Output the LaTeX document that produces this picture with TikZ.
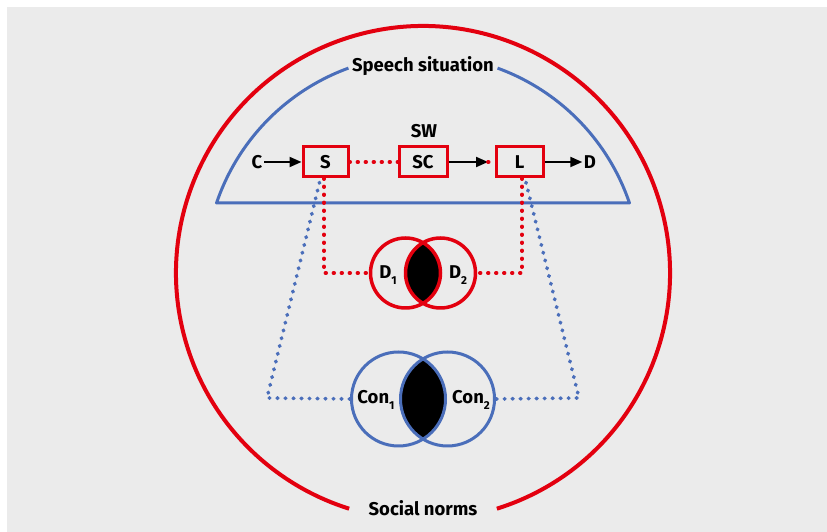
\documentclass[tikz,border=0pt]{standalone}
\usepackage{fontspec}
\setmainfont{Fira Sans}
\usetikzlibrary{arrows.meta,calc}
\definecolor{normred}{HTML}{E3000F}
\definecolor{sitblue}{HTML}{4A6EBA}
\definecolor{panel}{HTML}{EBEBEB}
\tikzset{
  lbl/.style={font=\bfseries\fontsize{18.5}{20}\selectfont, inner sep=1.5pt, text=black},
  stepbox/.style={lbl, draw=normred, line width=3pt, minimum width=45pt, minimum height=30pt},
  arr/.style={line width=2pt, -{Triangle[length=12pt,width=10pt]}},
  reddots/.style={normred, line width=3.8pt, line cap=round, dash pattern=on 0.6pt off 7.4pt},
  bluedots/.style={sitblue, line width=3.8pt, line cap=round, dash pattern=on 0.6pt off 7.4pt},
  ring/.style={circle, draw, inner sep=0pt},
}
\newcommand{\subidx}[1]{\raisebox{-0.6ex}{\fontsize{11.5}{12}\selectfont #1}}
\begin{document}
\begin{tikzpicture}[x=1pt,y=1pt]
  \useasboundingbox (0,0) rectangle (827,532);
  \fill[panel] (7,0) rectangle (827,525);

  \coordinate (ctr) at (423,259);

  % outer ring: social norms
  \draw[normred, line width=4pt] ([shift={(ctr)}]287.4:247) arc[start angle=287.4, end angle=612.6, radius=247];
  \node[lbl] (norms) at (423,24) {Social norms};

  % speech situation segment
  \draw[sitblue, line width=3pt, line join=round]
    ([shift={(ctr)}]70:218) arc[start angle=70, end angle=18.73, radius=218]
    -- ([shift={(ctr)}]161.27:218) arc[start angle=161.27, end angle=110, radius=218];
  \node[lbl] (sit) at (423,466) {Speech situation};

  % speech chain
  \node[lbl] (sw) at (424,401) {SW};
  \node[stepbox] (S) at (325.5,370) {S};
  \node[stepbox, minimum width=48pt] (SC) at (423,370) {SC};
  \node[stepbox, minimum width=47pt] (L) at (519.5,370) {L};
  \node[lbl] (C) at (257,370) {C};
  \node[lbl] (D) at (590,370) {D};
  \coordinate (sctip) at (488,370);

  \draw[arr] (C) -- (S);
  \draw[reddots] (S.east) -- (SC.west);
  \draw[arr] (SC.east) -- (sctip);
  \draw[reddots] (sctip) -- (L.west);
  \draw[arr] (L.east) -- (D);

  % D circles
  \node[ring, minimum size=70pt] (d1) at (405.5,259) {};
  \node[ring, minimum size=70pt] (d2) at (440.5,259) {};
  \begin{scope}
    \clip (405.5,259) circle (35);
    \fill[black] (440.5,259) circle (35);
  \end{scope}
  \draw[normred, line width=3.5pt] (d1.center) circle (35) (d2.center) circle (35);
  \node[lbl] (d1l) at (388,257) {D\subidx{1}};
  \node[lbl] (d2l) at (458,257) {D\subidx{2}};

  % Con circles
  \node[ring, minimum size=94pt] (c1) at (398.5,133) {};
  \node[ring, minimum size=94pt] (c2) at (447.5,133) {};
  \begin{scope}
    \clip (398.5,133) circle (47);
    \fill[black] (447.5,133) circle (47);
  \end{scope}
  \draw[sitblue, line width=3pt] (c1.center) circle (47) (c2.center) circle (47);
  \node[lbl] (c1l) at (376,132) {Con\subidx{1}};
  \node[lbl] (c2l) at (471,132) {Con\subidx{2}};

  % red dotted links to D circles
  \draw[reddots] ([xshift=-1.5pt]S.south) |- (d1.west);
  \draw[reddots] ([xshift=2.5pt]L.south) |- (d2.east);

  % blue dotted links to Con circles
  \coordinate (bl) at (267,134);
  \coordinate (br) at (579,134);
  \draw[bluedots] ([xshift=-6pt, yshift=-4pt]S.south) -- (bl) -- (c1.west);
  \draw[bluedots] ([xshift=6.5pt, yshift=-4pt]L.south) -- (br) -- (c2.east);
\end{tikzpicture}
\end{document}
